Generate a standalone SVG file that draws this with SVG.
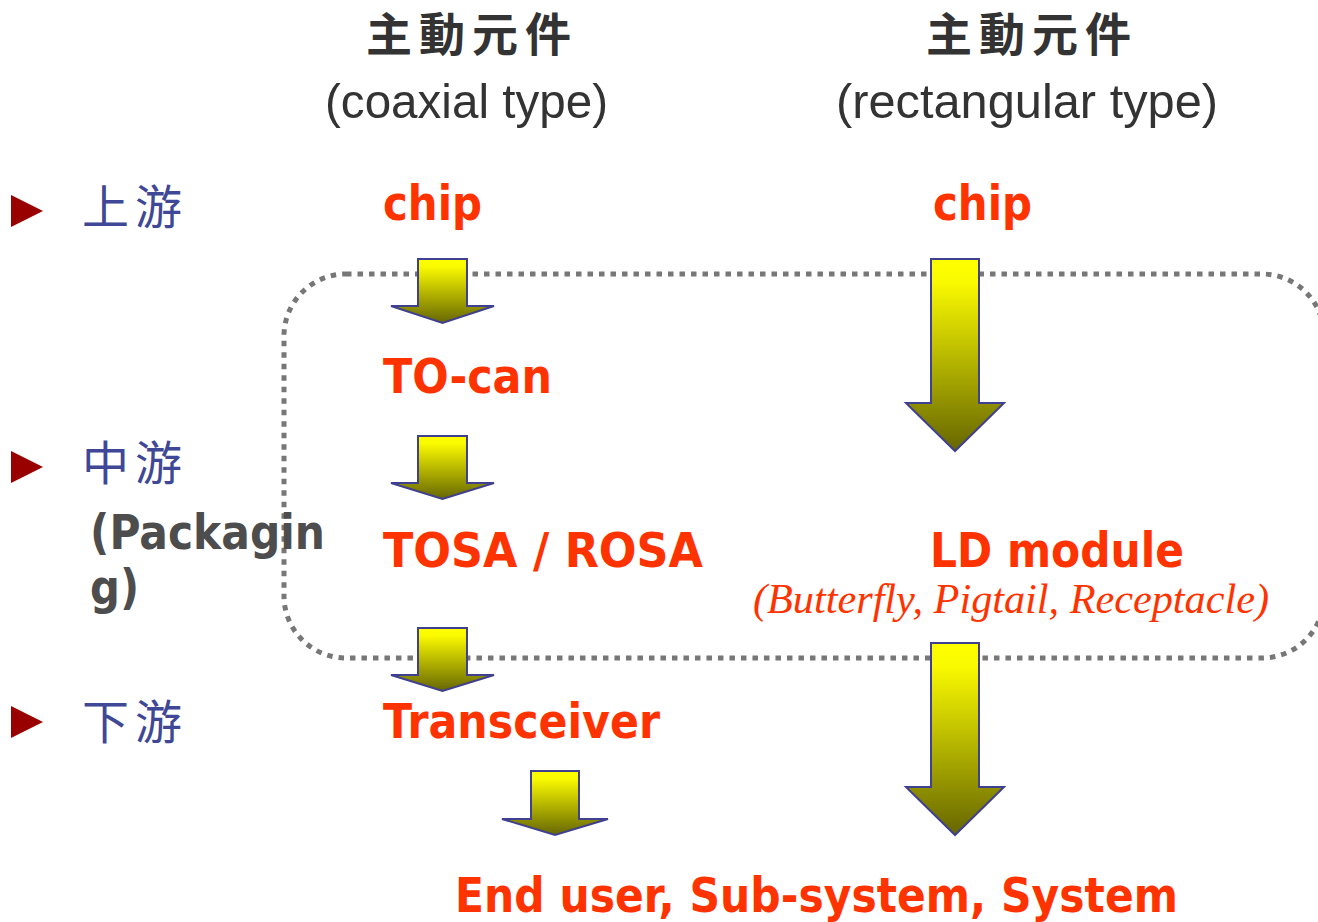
<svg xmlns="http://www.w3.org/2000/svg" width="1318" height="922" viewBox="0 0 1318 922">
<defs>
<linearGradient id="arrowFill" x1="0" y1="0" x2="0" y2="1">
<stop offset="0" stop-color="#FFFF00"/>
<stop offset="0.12" stop-color="#FAFA00"/>
<stop offset="1" stop-color="#666600"/>
</linearGradient>
<style>
.hdr{font-family:"Noto Sans CJK TC","Noto Sans CJK SC",sans-serif;font-weight:bold;font-size:46px;fill:#333333;letter-spacing:7px}
.sub{font-family:"Liberation Sans",Arial,sans-serif;font-size:49px;fill:#333333}
.stage{font-family:"Noto Sans CJK TC","Noto Sans CJK SC",sans-serif;font-size:47px;fill:#3F4896;letter-spacing:6px}
.bullet{fill:#990000}
.red{font-family:"DejaVu Sans",Verdana,sans-serif;font-weight:bold;font-size:48px;fill:#FF3300}
.gray{font-family:"DejaVu Sans",Verdana,sans-serif;font-weight:bold;font-size:48px;fill:#4D4D4D}
.ital{font-family:"Liberation Serif","Times New Roman",serif;font-style:italic;font-size:42px;fill:#FF3300}
.arrow{fill:url(#arrowFill);stroke:#404090;stroke-width:2;stroke-linejoin:miter}
.boundary{fill:none;stroke:#777777;stroke-width:5;stroke-dasharray:5.5 6}
</style>
</defs>
<rect width="1318" height="922" fill="#FFFFFF"/>

<g id="packaging-boundary">
<rect class="boundary" x="284" y="274" width="1040" height="384" rx="62" ry="62"/>
</g>

<g id="header-coaxial">
<text class="hdr" x="366" y="51">主動元件</text>
<text class="sub" x="325" y="118" textLength="283" lengthAdjust="spacingAndGlyphs">(coaxial type)</text>
</g>
<g id="header-rectangular">
<text class="hdr" x="926" y="51">主動元件</text>
<text class="sub" x="836" y="118" textLength="382" lengthAdjust="spacingAndGlyphs">(rectangular type)</text>
</g>

<g id="label-upstream">
<polygon class="bullet" points="11,195 43,211 11,227"/>
<text class="stage" x="82" y="224">上游</text>
</g>
<g id="label-midstream">
<polygon class="bullet" points="11,451 43,467 11,483"/>
<text class="stage" x="82" y="480">中游</text>
<text class="gray" x="90" y="549" textLength="235" lengthAdjust="spacingAndGlyphs">(Packagin</text>
<text class="gray" x="90" y="604" textLength="49" lengthAdjust="spacingAndGlyphs">g)</text>
</g>
<g id="label-downstream">
<polygon class="bullet" points="11,706 43,722 11,738"/>
<text class="stage" x="82" y="739">下游</text>
</g>

<g id="node-chip-coaxial">
<text class="red" x="383" y="220" textLength="99" lengthAdjust="spacingAndGlyphs">chip</text>
</g>
<g id="node-tocan">
<text class="red" x="383" y="393" textLength="169" lengthAdjust="spacingAndGlyphs">TO-can</text>
</g>
<g id="node-tosa-rosa">
<text class="red" x="383" y="567" textLength="320" lengthAdjust="spacingAndGlyphs">TOSA / ROSA</text>
</g>
<g id="node-transceiver">
<text class="red" x="383" y="738" textLength="277" lengthAdjust="spacingAndGlyphs">Transceiver</text>
</g>
<g id="node-chip-rectangular">
<text class="red" x="933" y="220" textLength="99" lengthAdjust="spacingAndGlyphs">chip</text>
</g>
<g id="node-ld-module">
<text class="red" x="930" y="567" textLength="254" lengthAdjust="spacingAndGlyphs">LD module</text>
<text class="ital" x="753" y="613" textLength="516" lengthAdjust="spacingAndGlyphs">(Butterfly, Pigtail, Receptacle)</text>
</g>
<g id="node-end-user">
<text class="red" x="455" y="912" textLength="723" lengthAdjust="spacingAndGlyphs">End user, Sub-system, System</text>
</g>

<g id="connectors">
<path class="arrow" d="M418,259 H467 V306 H494 L442.5,323 L391,306 H418 Z"/>
<path class="arrow" d="M418,436 H467 V483 H494 L442.5,499 L391,483 H418 Z"/>
<path class="arrow" d="M418,628 H467 V675 H494 L442.5,691 L391,675 H418 Z"/>
<path class="arrow" d="M531,771 H579 V819 H608 L555,835 L502,819 H531 Z"/>
<path class="arrow" d="M931,259 H979 V403 H1004 L955,451 L906,403 H931 Z"/>
<path class="arrow" d="M931,643 H979 V787 H1004 L955,835 L906,787 H931 Z"/>
</g>
</svg>
